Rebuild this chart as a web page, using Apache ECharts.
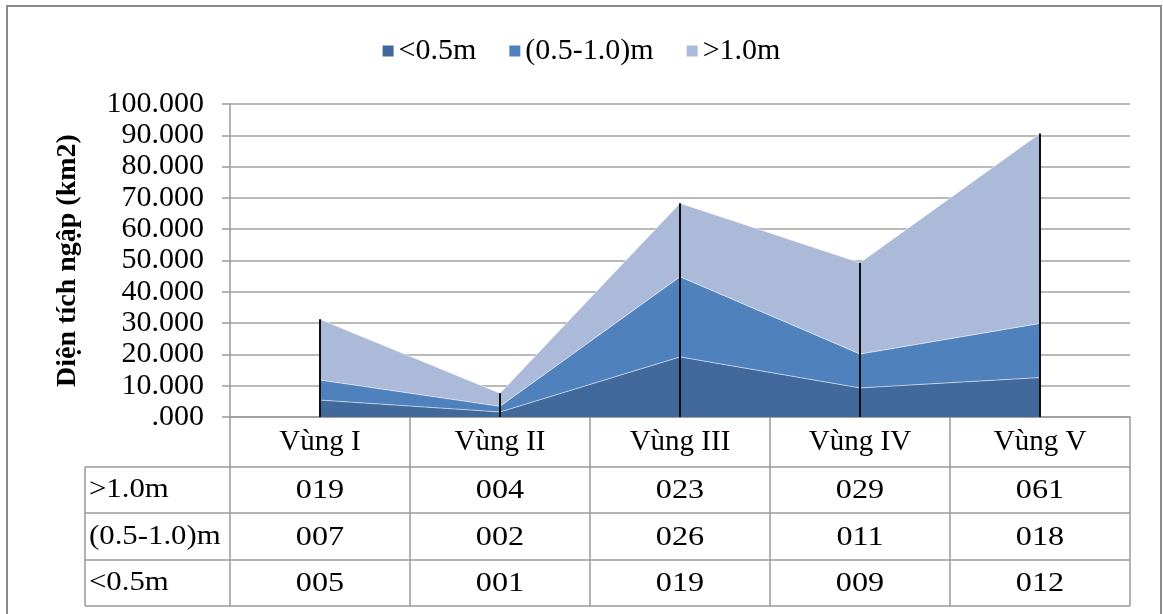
<!DOCTYPE html>
<html><head><meta charset="utf-8">
<script src="https://cdn.jsdelivr.net/npm/echarts@6/dist/echarts.min.js"></script>
<style>html,body{margin:0;padding:0;background:#fff}#c{width:1163px;height:614px}</style>
</head><body><div id="c"></div><script>
const categories = ['Vùng I', 'Vùng II', 'Vùng III', 'Vùng IV', 'Vùng V'];
const seriesNames = ['<0.5m', '(0.5-1.0)m', '>1.0m'];
const below05 = [5.4, 1.6, 19.2, 9.3, 12.6];
const mid05to10 = [6.4, 1.8, 25.6, 10.8, 17.3];
const above10 = [19.4, 4.2, 23.5, 29.2, 60.7];
const yTickLabels = ['.000', '10.000', '20.000', '30.000', '40.000', '50.000', '60.000', '70.000', '80.000', '90.000', '100.000'];
const tableRowNames = ['>1.0m', '(0.5-1.0)m', '<0.5m'];
const tableAbove10 = ['019', '004', '023', '029', '061'];
const tableMid = ['007', '002', '026', '011', '018'];
const tableBelow05 = ['005', '001', '019', '009', '012'];

const colors = ['#41699B', '#4F81BD', '#ABBAD8'];
const FONT = '"Liberation Serif", "Times New Roman", serif';
const totals = categories.map((_, i) => +(below05[i] + mid05to10[i] + above10[i]).toFixed(2));

const chart = echarts.init(document.getElementById('c'));
const GL = 230, GR = 33, GT = 104, GB = 197;

function areaSeries(name, data, color) {
  return {
    name: name, type: 'line', stack: 'total', data: data,
    symbol: 'none', smooth: false,
    itemStyle: { color: color },
    lineStyle: { color: 'rgba(255,255,255,0.55)', width: 1 },
    areaStyle: { color: color, opacity: 1 },
    z: 2, silent: true
  };
}

chart.setOption({
  animation: false,
  textStyle: { fontFamily: FONT },
  legend: {
    data: seriesNames,
    top: 31, left: 'center',
    icon: 'rect', itemWidth: 11, itemHeight: 11, itemGap: 33,
    textStyle: { fontFamily: FONT, fontSize: 30, color: '#000' }
  },
  grid: { left: GL, right: GR, top: GT, bottom: GB },
  xAxis: {
    type: 'category', data: categories, boundaryGap: true,
    axisLine: { show: true, lineStyle: { color: '#9a9a9a', width: 1.5 } },
    axisTick: { show: false },
    axisLabel: { fontFamily: FONT, fontSize: 29, color: '#000', margin: 11, interval: 0 },
    splitLine: { show: false }
  },
  yAxis: {
    type: 'value', min: 0, max: 100, interval: 10,
    name: 'Diện tích ngập (km2)', nameLocation: 'middle', nameGap: 148,
    nameTextStyle: { fontFamily: FONT, fontSize: 28, fontWeight: 'bold', color: '#000' },
    axisLine: { show: true, lineStyle: { color: '#9a9a9a', width: 1.5 } },
    axisTick: { show: true, length: 8, lineStyle: { color: '#9a9a9a', width: 1.5 } },
    axisLabel: {
      fontFamily: FONT, fontSize: 30, color: '#000', margin: 26,
      formatter: v => yTickLabels[Math.round(v / 10)]
    },
    splitLine: { show: true, lineStyle: { color: '#a3a3a3', width: 1.5 } }
  },
  series: [
    areaSeries(seriesNames[0], below05, colors[0]),
    areaSeries(seriesNames[1], mid05to10, colors[1]),
    areaSeries(seriesNames[2], above10, colors[2]),
    {
      name: 'drop', type: 'bar', data: totals, barWidth: 2,
      itemStyle: { color: '#111' }, z: 5, silent: true
    }
  ]
});

// Data table below the plot
const rowLines = [467, 513, 560, 606];
const headerTop = 614 - GB;
const stepX = (1163 - GL - GR) / categories.length;
const tableValues = [tableAbove10, tableMid, tableBelow05];
const g = [];
const lineStyle = { stroke: '#9a9a9a', lineWidth: 1.5 };
rowLines.forEach(y => g.push({ type: 'line', shape: { x1: 85, y1: y, x2: 1163 - GR, y2: y }, style: lineStyle, z: 10 }));
g.push({ type: 'line', shape: { x1: 85, y1: rowLines[0], x2: 85, y2: rowLines[3] }, style: lineStyle, z: 10 });
for (let i = 0; i <= categories.length; i++) {
  const x = GL + i * stepX;
  g.push({ type: 'line', shape: { x1: x, y1: headerTop, x2: x, y2: rowLines[3] }, style: lineStyle, z: 10 });
}
tableRowNames.forEach((name, r) => {
  const yc = (rowLines[r] + rowLines[r + 1]) / 2;
  g.push({ type: 'text', x: 89, y: yc, scaleX: 1.1, style: { text: name, font: '28px ' + FONT, fill: '#000', textVerticalAlign: 'middle', verticalAlign: 'middle' }, z: 11 });
  tableValues[r].forEach((v, i) => {
    const xc = chart.convertToPixel({ xAxisIndex: 0 }, categories[i]);
    g.push({ type: 'text', x: xc, y: yc + 1, scaleX: 1.15, style: { text: v, font: '28px ' + FONT, fill: '#000', textAlign: 'center', align: 'center', textVerticalAlign: 'middle', verticalAlign: 'middle' }, z: 11 });
  });
});
g.push({ type: 'rect', shape: { x: 7, y: 6, width: 1154, height: 640 }, style: { fill: 'none', stroke: '#8a8a8a', lineWidth: 2 }, z: 20, silent: true });
chart.setOption({ graphic: g });
</script></body></html>
